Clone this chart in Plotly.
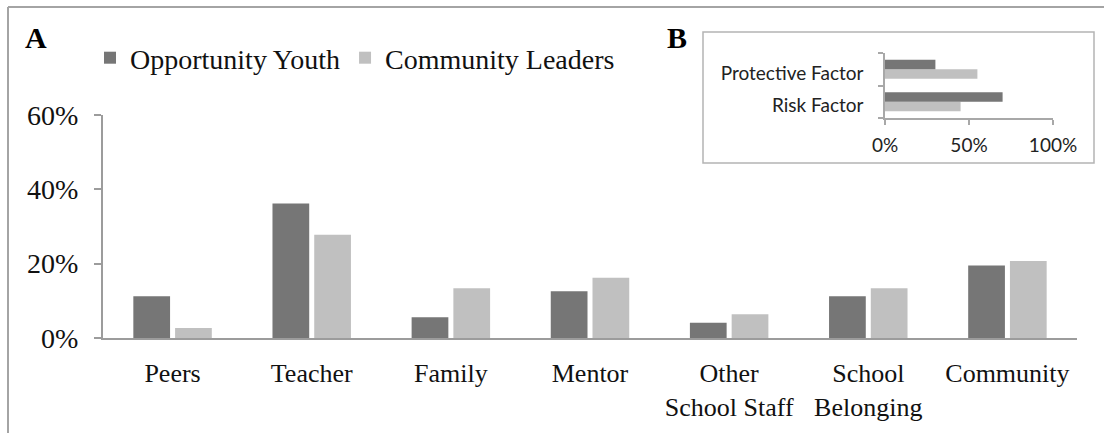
import plotly.graph_objects as go

W, H = 1104, 433

# ---------------- data ----------------
categories = ["Peers", "Teacher", "Family", "Mentor", "Other<br>School Staff",
              "School<br>Belonging", "Community"]
opportunity_youth = [11.2, 36.2, 5.6, 12.6, 4.1, 11.2, 19.5]
community_leaders = [2.7, 27.8, 13.4, 16.2, 6.4, 13.4, 20.7]

factor_categories = ["Risk Factor", "Protective Factor"]
factor_youth = [70, 30]
factor_leaders = [45, 55]

series_names = ["Opportunity Youth", "Community Leaders"]
main_ticks = [0, 20, 40, 60]
main_tick_labels = ["0%", "20%", "40%", "60%"]
inset_ticks = [0, 50, 100]
inset_tick_labels = ["0%", "50%", "100%"]

DARK = "#767676"
LIGHT = "#c0c0c0"
AXIS = "#9c9c9c"
SERIF = "Liberation Serif, Times New Roman, serif"
SANS = "Lato, Open Sans, sans-serif"


def px_x(x):
    return x / W


def px_y(y):
    return (H - y) / H


fig = go.Figure()

fig.add_trace(go.Bar(x=categories, y=opportunity_youth, name=series_names[0],
                     marker=dict(color=DARK, line=dict(width=0)),
                     xaxis="x", yaxis="y"))
fig.add_trace(go.Bar(x=categories, y=community_leaders, name=series_names[1],
                     marker=dict(color=LIGHT, line=dict(width=0)),
                     xaxis="x", yaxis="y"))

fig.add_trace(go.Bar(y=factor_categories, x=factor_leaders, orientation="h",
                     marker=dict(color=LIGHT, line=dict(width=0)),
                     width=0.29, offset=-0.29, showlegend=False,
                     xaxis="x2", yaxis="y2"))
fig.add_trace(go.Bar(y=factor_categories, x=factor_youth, orientation="h",
                     marker=dict(color=DARK, line=dict(width=0)),
                     width=0.29, offset=0.0, showlegend=False,
                     xaxis="x2", yaxis="y2"))

fig.update_layout(
    width=W, height=H, autosize=False,
    margin=dict(l=0, r=0, t=0, b=0, pad=0, autoexpand=False),
    paper_bgcolor="white", plot_bgcolor="white",
    barmode="group", bargap=0.40, bargroupgap=0.12,
    font=dict(family=SERIF, size=26, color="#111111"),
    showlegend=True,
    legend=dict(orientation="h", x=px_x(90), y=px_y(58), xanchor="left",
                yanchor="middle", font=dict(family=SERIF, size=28, color="#111111"),
                bgcolor="rgba(0,0,0,0)", itemwidth=30),
    xaxis=dict(domain=[px_x(103), px_x(1077)], anchor="y", automargin=False,
               showline=True, linecolor=AXIS, linewidth=2,
               ticks="", showgrid=False, zeroline=False,
               tickfont=dict(family=SERIF, size=26, color="#111111"),
               ticklabelstandoff=11, fixedrange=True),
    yaxis=dict(domain=[px_y(338), px_y(115)], anchor="x", automargin=False,
               range=[0, 60], tickmode="array", tickvals=main_ticks,
               ticktext=main_tick_labels,
               showline=True, linecolor=AXIS, linewidth=2,
               ticks="outside", ticklen=7, tickwidth=2, tickcolor=AXIS,
               showgrid=False, zeroline=False,
               tickfont=dict(family=SERIF, size=28, color="#111111"),
               ticklabelstandoff=10, fixedrange=True),
    xaxis2=dict(domain=[px_x(885), px_x(1053)], anchor="y2", automargin=False,
                range=[0, 100], tickmode="array", tickvals=inset_ticks,
                ticktext=inset_tick_labels,
                showline=True, linecolor="#a8a8a8", linewidth=1.5,
                ticks="outside", ticklen=5, tickwidth=1.5, tickcolor="#a8a8a8",
                showgrid=False, zeroline=False,
                tickfont=dict(family=SANS, size=19, color="#222222"),
                ticklabelstandoff=4, fixedrange=True),
    yaxis2=dict(domain=[px_y(118), px_y(53)], anchor="x2", automargin=False,
                showline=True, linecolor="#a8a8a8", linewidth=1.5,
                ticks="outside", ticklen=5, tickwidth=1.5, tickcolor="#a8a8a8",
                tickson="boundaries", showgrid=False, zeroline=False,
                tickfont=dict(family=SANS, size=19, color="#222222"),
                ticklabelstandoff=16, ticklabelshift=4, fixedrange=True),
)

fig.add_shape(type="line", xref="paper", yref="paper",
              x0=px_x(8), x1=1.0, y0=px_y(7), y1=px_y(7),
              line=dict(color="#a4a4a4", width=2))
fig.add_shape(type="line", xref="paper", yref="paper",
              x0=px_x(8), x1=px_x(8), y0=px_y(7), y1=0,
              line=dict(color="#a4a4a4", width=2))
fig.add_shape(type="rect", xref="paper", yref="paper",
              x0=px_x(703), x1=px_x(1094), y0=px_y(163), y1=px_y(32),
              line=dict(color="#b4b4b4", width=1.5), layer="below")

fig.add_annotation(text="<b>A</b>", xref="paper", yref="paper",
                   x=px_x(36), y=px_y(38), xanchor="center", yanchor="middle",
                   showarrow=False,
                   font=dict(family=SERIF, size=30, color="#000000"))
fig.add_annotation(text="<b>B</b>", xref="paper", yref="paper",
                   x=px_x(677), y=px_y(38), xanchor="center", yanchor="middle",
                   showarrow=False,
                   font=dict(family=SERIF, size=30, color="#000000"))

fig.write_html("out.html", config={"displayModeBar": False},
               post_script="document.body.style.margin='0';")
